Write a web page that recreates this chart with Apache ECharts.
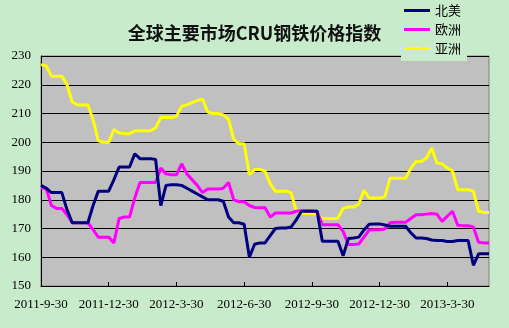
<!DOCTYPE html>
<html><head><meta charset="utf-8">
<script src="https://cdn.jsdelivr.net/npm/echarts@6/dist/echarts.min.js"></script>
<style>html,body{margin:0;padding:0;background:#C8ECCB;}#c{width:509px;height:328px;}</style>
</head><body><div id="c"></div>
<script>
// Tick labels shown every 13 weeks
const tickLabels = ['2011-9-30','2011-12-30','2012-3-30','2012-6-30','2012-9-30','2012-12-30','2013-3-30'];
const seriesNames = ['北美','欧洲','亚洲'];
// Weekly values, starting 2011-9-30
const northAmerica = [185,184,182.5,182.5,182.5,176.5,172,172,172,172,178,183,183,183,187,191.4,191.4,191.4,196,194.3,194.3,194.3,
194,178,185,185.2,185.2,185,184,183,182,181,180,180,180,179.5,174,172,172,171.5,160,164.5,165,165,
167.5,170,170.2,170.2,170.5,173,176,176,176,176,165.6,165.6,165.6,165.6,160.5,166.5,166.7,167,169.5,171.5,
171.6,171.6,171.2,170.8,170.8,170.8,170.8,168.5,166.7,166.7,166.5,166,165.8,165.8,165.5,165.5,165.8,165.8,165.8,157.2,161.2,161.2,161.2];
const europe = [184,184,178,177,177,174.8,172,172,172,172,169.6,167,167,167,165,173.5,174,174,180.6,186,186,186,
186,191,189,188.7,188.7,192.5,189,187,185,182.5,183.7,183.7,183.7,184,186,180,179.3,179.3,178,177.3,177.2,177.3,
174,175.4,175.4,175.4,175.4,176,176.2,176.2,176.2,176,171.3,171.3,171.3,171.3,169,164.4,164.4,164.6,167,169.5,
169.6,169.6,169.8,172,172.2,172.2,172.2,173.5,174.8,174.8,175,175.2,175,172.5,174.3,176,171.1,171,171,170.5,165.2,165,165];
const asia = [227,226.5,223,223,223,220,214,213,213,213,207.8,200.5,200,200,204.4,203.2,203,203,204,204,204,204,
205,208.6,208.6,208.6,209,212.5,213,213.8,214.5,215,210.5,210,210,209.5,208,201,199.5,199.5,188.7,190.5,190.5,190,
185.5,183,183,183,182.5,176,175.2,175.2,175.2,175,173.5,173.5,173.5,173.6,177,177.5,177.5,178.5,183.3,180.6,
180.6,180.6,181,187.5,187.5,187.5,187.5,191,193.3,193.3,194.5,198,192.8,192.5,191,190,183.5,183.5,183.5,183,176,175.6,175.6];

// weekly date categories
const categories = [];
(function(){ const d0 = new Date(2011,8,30); for(let i=0;i<asia.length;i++){ const d=new Date(d0.getTime()+i*7*86400000); categories.push(d.getFullYear()+'-'+(d.getMonth()+1)+'-'+d.getDate()); } })();

const chart = echarts.init(document.getElementById('c'));
const colors = ['#000080','#FF00FF','#FFFF00'];
const data = [northAmerica, europe, asia];
chart.setOption({
  animation:false,
  backgroundColor:'#C8ECCB',
  title:{text:'全球主要市场CRU钢铁价格指数', left:'center', top:19,
    textStyle:{fontFamily:'Noto Sans CJK SC', fontWeight:'bold', fontSize:18, color:'#111'}},
  legend:{orient:'vertical', left:401, top:0, itemWidth:26, itemHeight:3, itemGap:4,
    padding:[3,6,5,3], backgroundColor:'#C8ECCB',
    textStyle:{fontFamily:'Noto Sans CJK SC', fontSize:13, color:'#000', lineHeight:15},
    data:seriesNames.map(n=>({name:n, icon:'rect'}))},
  grid:{left:41, top:56, right:20, bottom:42, show:true, backgroundColor:'#C0C0C0', borderColor:'#808080', borderWidth:1},
  xAxis:{type:'category', data:categories, boundaryGap:false,
    axisLine:{lineStyle:{color:'#000', width:1}},
    axisTick:{inside:true, length:4, interval:(i)=>i%13===0, lineStyle:{color:'#000'}},
    axisLabel:{interval:(i)=>i%13===0, formatter:(v,i)=>tickLabels[i/13]||'', margin:12,
      fontFamily:'Liberation Serif', fontSize:13, color:'#000'}},
  yAxis:{type:'value', min:150, max:230, interval:10,
    axisLine:{show:true, lineStyle:{color:'#000'}}, axisTick:{show:false},
    splitLine:{lineStyle:{color:'#000', width:1}},
    axisLabel:{fontFamily:'Liberation Serif', fontSize:13, color:'#000', margin:10}},
  series: seriesNames.map((n,k)=>({name:n, type:'line', data:data[k], symbol:'none',
    z: 3-k,
    lineStyle:{color:colors[k], width:3}, itemStyle:{color:colors[k]}}))
});
</script></body></html>
